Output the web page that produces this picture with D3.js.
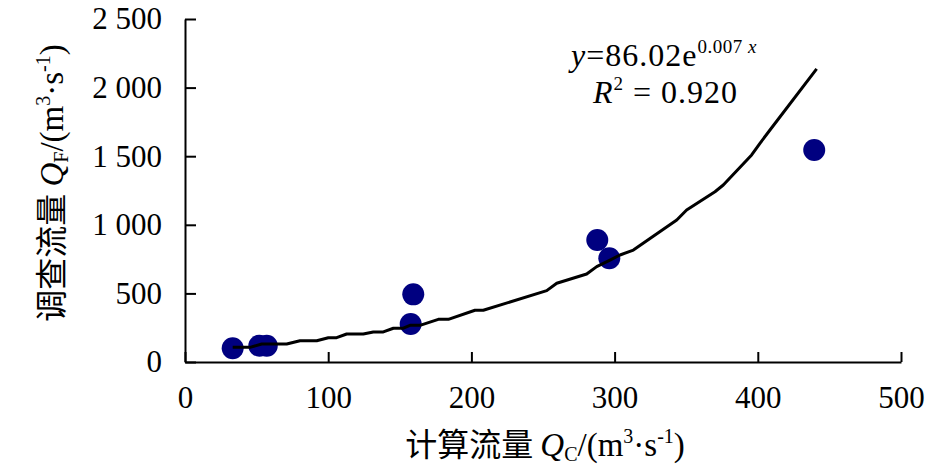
<!DOCTYPE html>
<html>
<head>
<meta charset="utf-8">
<script src="https://cdn.jsdelivr.net/npm/d3@7"></script>
<style>
body { margin: 0; background: #fff; }
text { font-family: "Liberation Serif", "Times New Roman", "Noto Sans CJK SC", serif; }
</style>
</head>
<body>
<svg width="945" height="469"></svg>
<script>
// observed points (calculated Q vs surveyed Q)
var obsX = [33.3, 51.9, 57.1, 157.6, 159.4, 287.9, 296.3, 439.4];
var obsY = [100, 119, 119, 277, 493, 889, 756, 1545];

// fitted curve as drawn
var fitX = [33.3, 45.4, 53.6, 71.0, 80.3, 92.0, 100.1, 105.9, 112.9, 124.5, 131.5, 138.5, 145.5, 152.5, 157.1, 164.1,
            176.9, 183.9, 202.5, 208.3, 252.6, 259.6, 280.5, 287.5, 296.8, 303.8, 313.1, 343.4, 350.3, 370.1, 375.9,
            395.7, 401.5, 408.5, 441.1];
var fitY = [107, 107, 131, 131, 155, 155, 177, 177, 204, 204, 219, 219, 246, 246, 267, 267,
            311, 311, 377, 377, 520, 574, 641, 695, 743, 780, 816, 1035, 1108, 1241, 1290,
            1509, 1594, 1691, 2136];

var xTicks = [0, 100, 200, 300, 400, 500];
var yTicks = [0, 500, 1000, 1500, 2000, 2500];

var svg = d3.select("svg");
var xs = d3.scaleLinear().domain([0, 500]).range([185, 901]);
var ys = d3.scaleLinear().domain([0, 2500]).range([362, 19]);

var fmt = function(d) { return d3.format(",")(d).replace(",", " "); };

// ================== AXES ==================
svg.append("g")
    .attr("transform", "translate(" + xs(0) + ",0)")
    .call(d3.axisLeft(ys).tickValues(yTicks).tickFormat(fmt).tickSize(-11).tickSizeOuter(0).tickPadding(23));
svg.append("g")
    .attr("transform", "translate(0," + ys(0) + ")")
    .call(d3.axisBottom(xs).tickValues(xTicks).tickSize(-10).tickSizeOuter(0).tickPadding(24));

svg.selectAll(".domain, .tick line").attr("stroke", "#000").attr("stroke-width", 2);
svg.selectAll(".tick text").attr("font-size", 31).attr("fill", "#000")
    .attr("font-family", "'Liberation Serif', 'Times New Roman', serif");

// ================== FIT LINE + POINTS ==================
var fit = fitX.map(function(x, i) { return [x, fitY[i]]; });
var line = d3.line().x(function(d) { return xs(d[0]); }).y(function(d) { return ys(d[1]); });

svg.selectAll("circle.pt")
    .data(obsX.map(function(x, i) { return [x, obsY[i]]; }))
    .enter().append("circle")
    .attr("class", "pt")
    .attr("cx", function(d) { return xs(d[0]); })
    .attr("cy", function(d) { return ys(d[1]); })
    .attr("r", 11)
    .attr("fill", "#000080");

svg.append("path")
    .datum(fit)
    .attr("fill", "none")
    .attr("stroke", "#000")
    .attr("stroke-width", 3)
    .attr("stroke-linejoin", "round")
    .attr("d", line);

// ================== TITLES ==================
function unitLabel(t, sub) {
    t.append("tspan").attr("font-style", "italic").text("Q");
    t.append("tspan").attr("font-size", 20).attr("dy", 5).text(sub);
    t.append("tspan").attr("dy", -5).text("/(m");
    t.append("tspan").attr("font-size", 20).attr("dy", -13).text("3");
    t.append("tspan").attr("dy", 13).text("\u00b7s");
    t.append("tspan").attr("font-size", 20).attr("dy", -13).text("-1");
    t.append("tspan").attr("dy", 13).text(")");
}

var xt = svg.append("text")
    .attr("x", 545).attr("y", 456)
    .attr("text-anchor", "middle")
    .attr("font-size", 33);
xt.append("tspan").attr("font-family", "'Noto Sans CJK SC', serif").attr("font-size", 32).text("计算流量 ");
unitLabel(xt, "C");

var yt = svg.append("text")
    .attr("transform", "translate(63,183) rotate(-90)")
    .attr("text-anchor", "middle")
    .attr("font-size", 33);
yt.append("tspan").attr("font-family", "'Noto Sans CJK SC', serif").attr("font-size", 32).text("调查流量 ");
unitLabel(yt, "F");

// ================== EQUATION ==================
var eq = svg.append("text").attr("x", 571).attr("y", 66).attr("font-size", 32).attr("letter-spacing", 1);
eq.append("tspan").attr("font-style", "italic").text("y");
eq.append("tspan").text("=86.02e");
eq.append("tspan").attr("font-size", 19).attr("dy", -13).attr("letter-spacing", 0.5).text("0.007 ");
eq.append("tspan").attr("font-size", 19).attr("font-style", "italic").text("x");

var r2 = svg.append("text").attr("x", 593).attr("y", 103).attr("font-size", 32).attr("letter-spacing", 1);
r2.append("tspan").attr("font-style", "italic").text("R");
r2.append("tspan").attr("font-size", 19).attr("dy", -13).text("2");
r2.append("tspan").attr("dy", 13).text(" = 0.920");
</script>
</body>
</html>
